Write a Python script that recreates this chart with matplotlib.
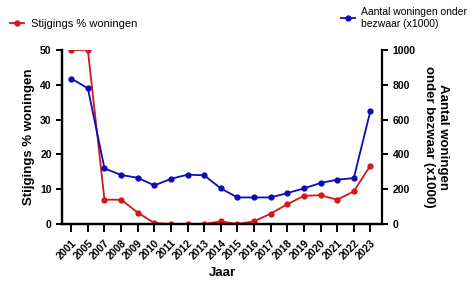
import numpy as np
import matplotlib
matplotlib.use("Agg")
import matplotlib.pyplot as plt

plt.rcParams['font.family'] = ['Liberation Sans', 'DejaVu Sans']

years = ['2001', '2005', '2007', '2008', '2009', '2010', '2011', '2012', '2013', '2014',
         '2015', '2016', '2017', '2018', '2019', '2020', '2021', '2022', '2023']
stijging = [50, 50, 7, 7, 3.3, 0.3, 0, 0, 0, 0.8, 0, 0.8, 3.0, 5.7, 8.1, 8.3, 7.0, 9.4, 16.8]
bezwaar = [836, 780, 320, 282, 266, 222, 260, 284, 280, 205, 153, 153, 153, 178, 205, 236, 255, 264, 651]

red = '#d6151f'
blue = '#0c0cb4'

fig = plt.figure(figsize=(4.74, 2.96), dpi=100)
ax = fig.add_axes([0.131, 0.243, 0.675, 0.588])
ax2 = ax.twinx()

x = np.arange(len(years))
l1, = ax.plot(x, stijging, color=red, lw=1.3, marker='o', ms=3.5, label='Stijgings % woningen')
l2, = ax2.plot(x, bezwaar, color=blue, lw=1.3, marker='o', ms=3.5, label='Aantal woningen onder\nbezwaar (x1000)')

ax.set_xlim(-0.55, 18.7)
ax.set_ylim(0, 50)
ax2.set_ylim(0, 1000)
ax.set_yticks(range(0, 51, 10))
ax2.set_yticks(range(0, 1001, 200))
ax.set_xticks(x)
ax.set_xticklabels(years, rotation=45, ha='right', rotation_mode='anchor', fontsize=8.5, fontweight='bold')

for a in (ax, ax2):
    for s in a.spines.values():
        s.set_linewidth(1.6)
    a.spines['top'].set_visible(False)
    a.tick_params(width=1.4, length=4, labelsize=7.5)
    for lab in a.get_yticklabels():
        lab.set_fontweight('bold')
ax.tick_params(axis='x', length=6, pad=4)
ax.spines['right'].set_visible(False)

ax.set_ylabel('Stijgings % woningen', fontsize=9.5, fontweight='bold', labelpad=4)
ax2.set_ylabel('Aantal woningen\nonder bezwaar (x1000)', fontsize=9.5, fontweight='bold',
               rotation=270, labelpad=24)
ax.set_xlabel('Jaar', fontsize=9.5, fontweight='bold', labelpad=4)

fig.legend(handles=[l1], loc='upper left', bbox_to_anchor=(0.0, 0.97), frameon=False,
           fontsize=8, handlelength=1.3, handletextpad=0.6)
fig.legend(handles=[l2], loc='upper left', bbox_to_anchor=(0.705, 1.0), frameon=False,
           fontsize=7.5, handlelength=1.3, handletextpad=0.6, borderaxespad=0.3)

fig.savefig('out.png', dpi=100)
